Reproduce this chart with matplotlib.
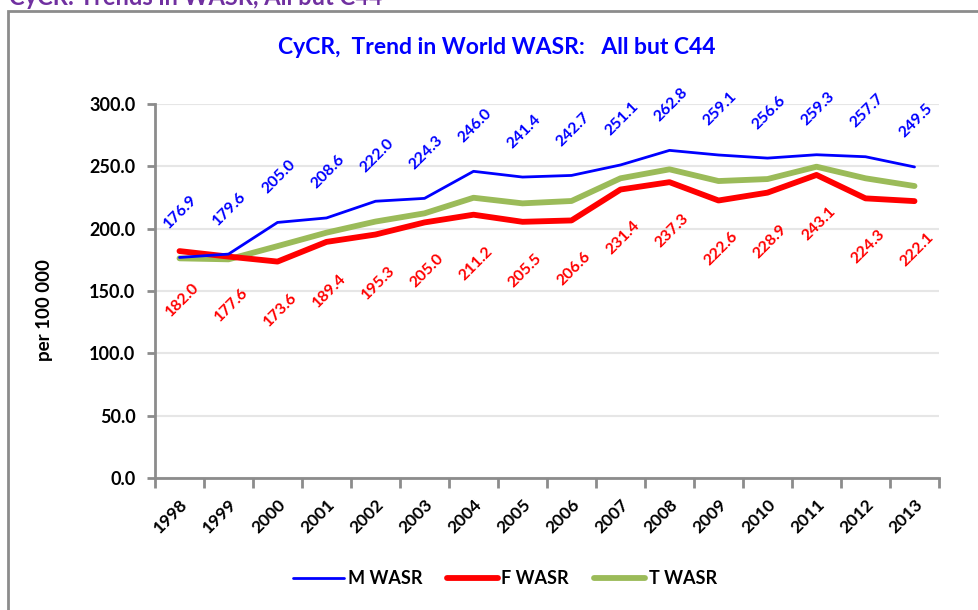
import matplotlib.pyplot as plt
from matplotlib.patches import Rectangle

plt.rcParams['font.family'] = ['Lato', 'DejaVu Sans']

years = ['1998', '1999', '2000', '2001', '2002', '2003', '2004', '2005',
         '2006', '2007', '2008', '2009', '2010', '2011', '2012', '2013']
m_wasr = [176.9, 179.6, 205.0, 208.6, 222.0, 224.3, 246.0, 241.4,
          242.7, 251.1, 262.8, 259.1, 256.6, 259.3, 257.7, 249.5]
f_wasr = [182.0, 177.6, 173.6, 189.4, 195.3, 205.0, 211.2, 205.5,
          206.6, 231.4, 237.3, 222.6, 228.9, 243.1, 224.3, 222.1]
# totals are not labelled in the picture
t_wasr = [176.2, 175.4, 186.0, 196.8, 205.7, 212.3, 224.8, 220.3,
          222.2, 240.4, 247.6, 238.2, 239.8, 249.7, 240.4, 234.2]

W, H = 979, 610
fig = plt.figure(figsize=(W / 100, H / 100), dpi=100)

# outer chart border (cut off on the right and bottom)
fig.patches.append(Rectangle((8 / W, -0.1), 1.2, 1 - 11 / H + 0.1,
                             transform=fig.transFigure, fill=False,
                             edgecolor='#8c8c8c', linewidth=2))

# slide title, half cut off at the top
fig.text(9 / W, 1 - 5 / H, 'CyCR: Trends in WASR, All but C44', color='#7030a0',
         fontsize=17, fontweight='bold', va='baseline', ha='left')

ax = fig.add_axes([155 / W, 1 - 478 / H, (939 - 155) / W, (478 - 104) / H])
x = range(len(years))

ax.plot(x, t_wasr, color='#9bbb59', linewidth=4.2, solid_capstyle='round', zorder=3, label='T WASR')
ax.plot(x, f_wasr, color='#ff0000', linewidth=4.2, solid_capstyle='round', zorder=4, label='F WASR')
ax.plot(x, m_wasr, color='#0000ff', linewidth=2.0, solid_capstyle='round', zorder=5, label='M WASR')

for i in x:
    ax.annotate(f'{m_wasr[i]:.1f}', (i, m_wasr[i]), xytext=(1, 33), textcoords='offset points',
                ha='center', va='center', rotation=45, color='#0000ff',
                fontsize=11.5, fontweight='bold', annotation_clip=False)
    ax.annotate(f'{f_wasr[i]:.1f}', (i, f_wasr[i]), xytext=(2, -35), textcoords='offset points',
                ha='center', va='center', rotation=45, color='#ff0000',
                fontsize=11.5, fontweight='bold', annotation_clip=False)

ax.set_xlim(-0.5, len(years) - 0.5)
ax.set_ylim(0, 300)
ax.set_yticks([0, 50, 100, 150, 200, 250, 300])
ax.set_yticklabels([f'{v:.1f}' for v in [0, 50, 100, 150, 200, 250, 300]],
                   fontsize=13, fontweight='bold')
ax.set_xticks(list(x))
ax.set_xticklabels(years, rotation=45, ha='right', va='top', rotation_mode='anchor',
                   fontsize=12.5, fontweight='bold')
ax.set_xticks([i - 0.5 for i in range(len(years) + 1)], minor=True)
ax.tick_params(axis='x', which='major', length=0, pad=13)
ax.tick_params(axis='x', which='minor', length=7, width=2, color='#8c8c8c', direction='out')
ax.tick_params(axis='y', length=6, width=2, color='#8c8c8c', direction='out', pad=8)

ax.grid(axis='y', color='#e6e6e6', linewidth=1.5)
ax.set_axisbelow(True)
for s in ['top', 'right']:
    ax.spines[s].set_visible(False)
for s in ['left', 'bottom']:
    ax.spines[s].set_color('#8c8c8c')
    ax.spines[s].set_linewidth(2)

fig.text(45 / W, 1 - 310 / H, 'per 100 000', rotation=90, ha='center', va='center',
         fontsize=13.5, fontweight='bold')

fig.text(497 / W, 1 - 47 / H, 'CyCR,  Trend in World WASR:   All but C44', color='#0000ff',
         fontsize=16.5, fontweight='bold', ha='center', va='center')

handles, labels = ax.get_legend_handles_labels()
order = [2, 1, 0]
fig.legend([handles[k] for k in order], [labels[k] for k in order], loc='center',
           bbox_to_anchor=(505 / W, 1 - 579 / H), ncol=3, frameon=False,
           prop={'weight': 'bold', 'size': 13}, handlelength=2.8, handletextpad=0.2,
           columnspacing=1.4)

fig.savefig('out.png', dpi=100)
